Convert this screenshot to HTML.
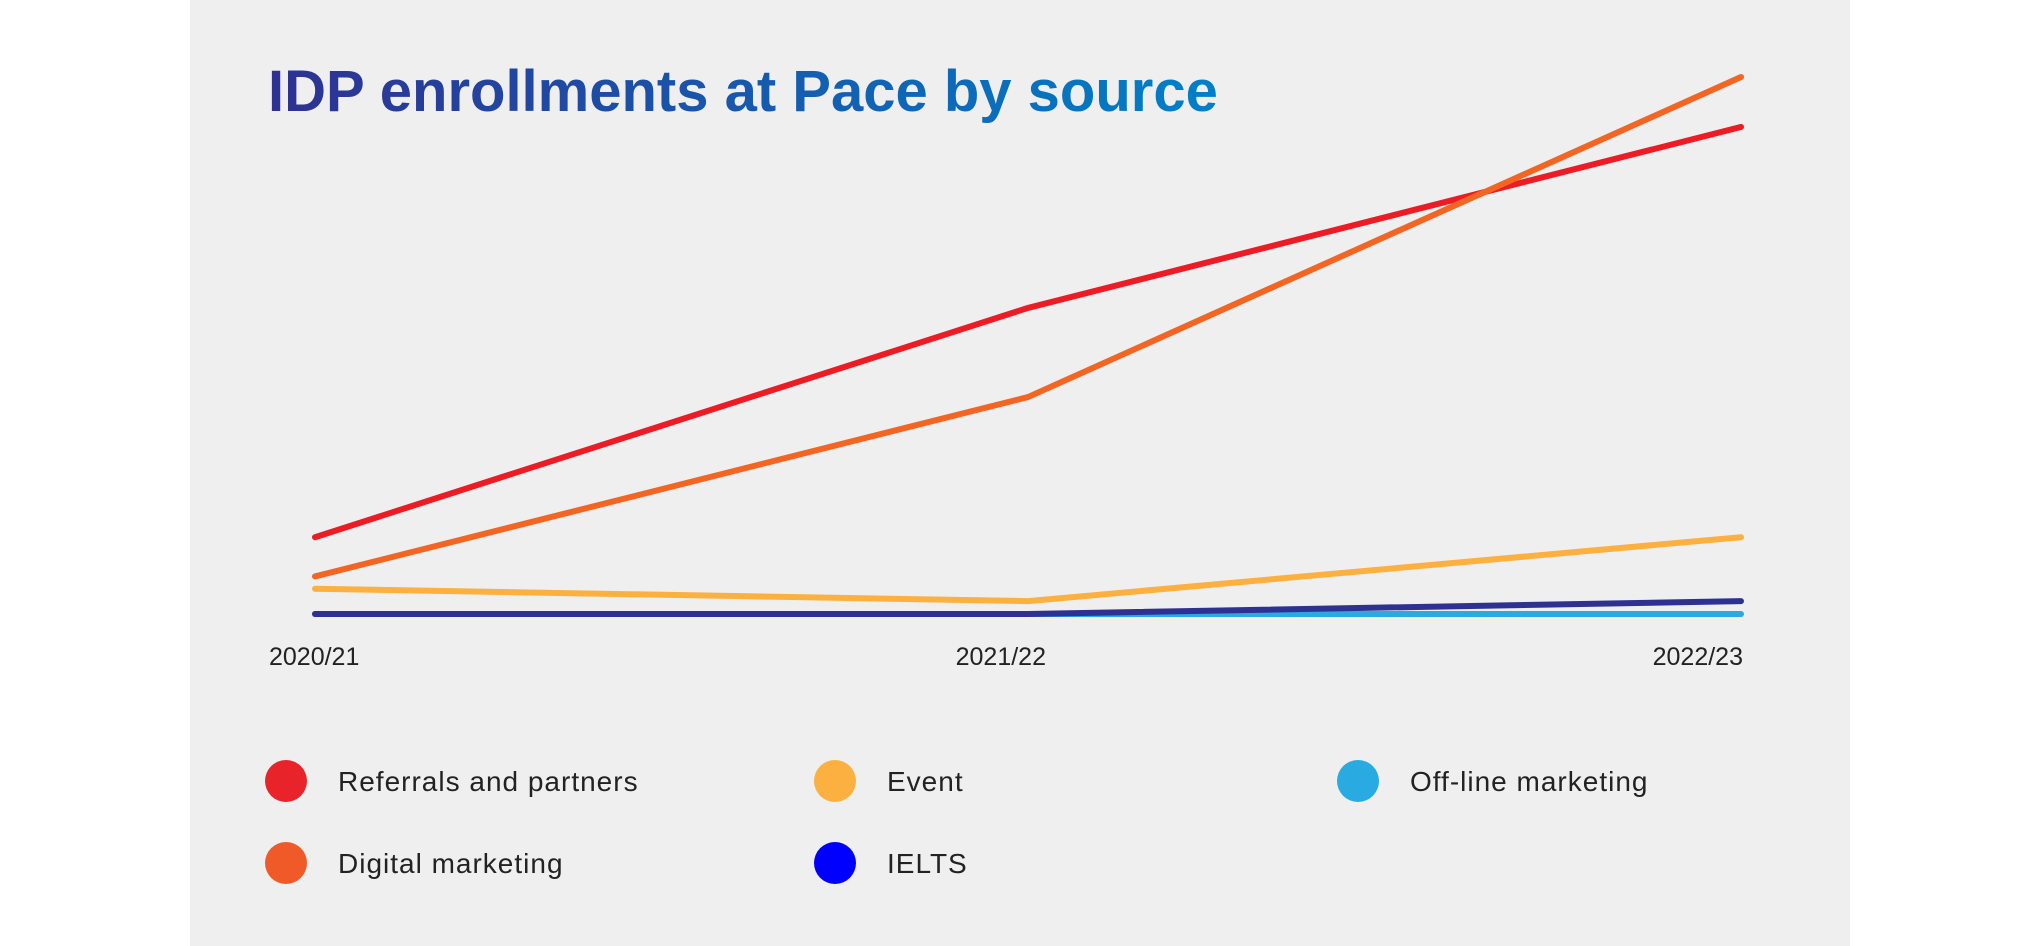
<!DOCTYPE html>
<html><head><meta charset="utf-8"><style>
body{margin:0;width:2040px;height:946px;background:#fff;overflow:hidden;font-family:"Liberation Sans",sans-serif}
#panel{position:absolute;left:190px;top:0;width:1660px;height:946px;background:#efefef}
</style></head><body>
<div id="panel"></div>
<svg id="chart" width="2040" height="946" style="position:absolute;left:0;top:0">
<defs><linearGradient id="tg" x1="0" x2="1"><stop offset="0" stop-color="#2e3192"/><stop offset="1" stop-color="#0080c8"/></linearGradient></defs>
<text x="268" y="111" font-size="58" font-weight="bold" fill="url(#tg)">IDP enrollments at Pace by source</text>
<g id="lines"></g><g id="ticks"></g><g id="legend"></g>
</svg>
<script>
const categories=["2020/21","2021/22","2022/23"];
const seriesNames=["Referrals and partners","Digital marketing","Event","IELTS","Off-line marketing"];
const referrals=[14.3,57,90.7];
const digital=[7,40.4,100];
const eventS=[4.7,2.4,14.3];
const ielts=[0,0,2.4];
const offline=[0,0,0];
const NS="http://www.w3.org/2000/svg";
const x0=315,x1=1741,y0=614,k=5.37;
function xs(i){return x0+i*(x1-x0)/(categories.length-1);}
function ys(v){return y0-v*k;}
const lineColors=["#ed1c24","#f26522","#fbb040","#2e3192","#29abe2"];
const dotColors=["#e8242a","#f05a28","#fbb040","#0000ff","#29abe2"];
const lines=document.getElementById('lines');
const all=[referrals,digital,eventS,ielts,offline];
const names=["line-referrals","line-digital","line-event","line-ielts","line-offline"];
[4,3,2,0,1].forEach(si=>{
  const p=document.createElementNS(NS,'polyline');
  p.setAttribute('points',all[si].map((v,i)=>xs(i)+','+ys(v)).join(' '));
  p.setAttribute('fill','none');p.setAttribute('stroke',lineColors[si]);
  p.setAttribute('stroke-width','6');p.setAttribute('stroke-linecap','round');p.setAttribute('stroke-linejoin','round');
  
  
  lines.appendChild(p);
});
const ticks=document.getElementById('ticks');
categories.forEach((c,i)=>{
  const t=document.createElementNS(NS,'text');
  t.setAttribute('y',665);t.setAttribute('font-size','25');t.setAttribute('fill','#222');
  if(i===0){t.setAttribute('x',269);t.setAttribute('text-anchor','start');}
  else if(i===categories.length-1){t.setAttribute('x',xs(i)+2);t.setAttribute('text-anchor','end');}
  else{t.setAttribute('x',xs(i)+18);t.setAttribute('text-anchor','end');}
  t.textContent=c;
  
  
  ticks.appendChild(t);
});
const legPos=[[286,781],[286,863],[835,781],[835,863],[1358,781]];
const legend=document.getElementById('legend');
[0,1,2,3,4].forEach(si=>{
  const [cx,cy]=legPos[si];
  const g=document.createElementNS(NS,'g');
  
  
  const c=document.createElementNS(NS,'circle');
  c.setAttribute('cx',cx);c.setAttribute('cy',cy);c.setAttribute('r',21);c.setAttribute('fill',dotColors[si]);
  const t=document.createElementNS(NS,'text');
  t.setAttribute('x',cx+52);t.setAttribute('y',cy+10);t.setAttribute('font-size','28');t.setAttribute('letter-spacing','1');t.setAttribute('fill','#222');
  t.textContent=seriesNames[si];
  g.appendChild(c);g.appendChild(t);legend.appendChild(g);
});
</script>
</body></html>
